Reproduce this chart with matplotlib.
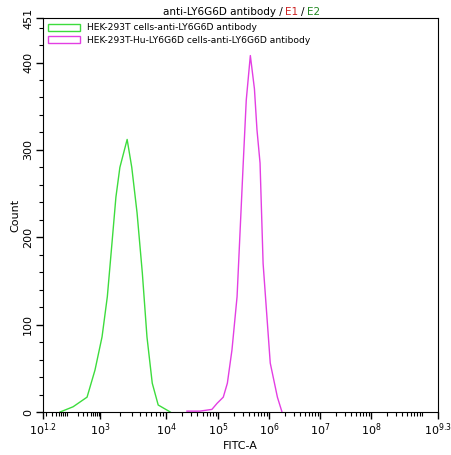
import numpy as np
import matplotlib
matplotlib.use("Agg")
import matplotlib.pyplot as plt
from matplotlib.patches import Patch

# x values are log10(FITC-A), y are counts
green_log = [1.74, 2.15, 2.59, 2.84, 3.03, 3.11, 3.18, 3.24, 3.30, 3.41, 3.48, 3.56, 3.64, 3.71, 3.79, 3.88, 4.08]
green_cnt = [0, 6, 17, 48, 86, 132, 193, 246, 280, 312, 280, 228, 159, 86, 33, 8, 0]
mag_log = [4.40, 4.65, 4.88, 4.98, 5.10, 5.18, 5.27, 5.37, 5.43, 5.49, 5.55, 5.63, 5.71, 5.76, 5.82, 5.88, 6.02, 6.16, 6.25]
mag_cnt = [1, 1, 3, 10, 17, 33, 71, 132, 208, 284, 357, 408, 370, 323, 285, 170, 56, 17, 0]
labels = ["HEK-293T cells-anti-LY6G6D antibody", "HEK-293T-Hu-LY6G6D cells-anti-LY6G6D antibody"]

# the cytometer axis is compressed below 10^4; piecewise map of decade -> axis position
axis_log = [1.2, 3, 4, 5, 6, 7, 8, 9, 9.3]
axis_pos = [0, 57, 123, 175, 226, 277, 328, 379, 394.6]


def xmap(lg):
    return np.interp(lg, axis_log, axis_pos)


fig = plt.figure(figsize=(4.52, 4.55), dpi=100)
ax = fig.add_axes([43 / 452, 43 / 455, 395 / 452, 394 / 455])
green, magenta = "#3ddc3d", "#e33ee3"
ax.plot(xmap(green_log), green_cnt, color=green, lw=1)
ax.plot(xmap(mag_log), mag_cnt, color=magenta, lw=1)
ax.set_xlim(0, axis_pos[-1])
ax.set_ylim(0, 451)

major = [1.2, 3, 4, 5, 6, 7, 8, 9.3]
ax.set_xticks(xmap(major))
ax.set_xticklabels([r"$10^{1.2}$", r"$10^3$", r"$10^4$", r"$10^5$", r"$10^6$", r"$10^7$", r"$10^8$", r"$10^{9.3}$"], fontsize=8)
minors = [d + np.log10(k) for d in range(1, 10) for k in range(2, 10)]
minors = [m for m in minors if 1.2 < m < 9.3] + [9]
ax.set_xticks(xmap(minors), minor=True)
ax.set_yticks([0, 100, 200, 300, 400, 451])
ax.set_yticklabels(["0", "100", "200", "300", "400", "451"], rotation=90, va="center", fontsize=8)
ax.set_yticks(range(20, 451, 20), minor=True)
ax.tick_params(which="major", length=5, width=1, direction="out", pad=2)
ax.tick_params(which="minor", length=3, width=0.8, direction="out")
ax.set_xlabel("FITC-A", fontsize=8, labelpad=2)
ax.set_ylabel("Count", fontsize=8, labelpad=2)

handles = [Patch(facecolor="white", edgecolor=green), Patch(facecolor="white", edgecolor=magenta)]
ax.legend(handles, labels, loc="upper left", fontsize=6.6, frameon=False, handlelength=3.4,
          handleheight=0.8, borderaxespad=0.2, labelspacing=0.35, handletextpad=0.8)

# title in coloured pieces, laid out left to right
parts = [("anti-LY6G6D antibody /", "black"), ("E1", "#cc2222"), ("/", "black"), ("E2", "#228822")]
renderer = fig.canvas.get_renderer()
x = 163
for s, c in parts:
    t = fig.text(x / 452, 0.985, s, color=c, ha="left", va="top", fontsize=7.5)
    x += t.get_window_extent(renderer).width + 2.5

fig.savefig("out.png", dpi=100)
